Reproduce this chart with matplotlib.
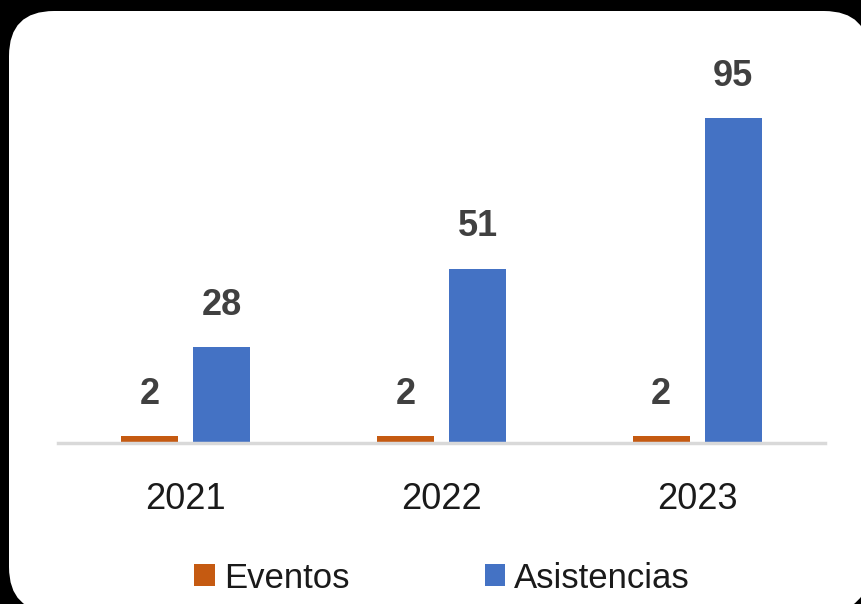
import matplotlib.pyplot as plt
import numpy as np
from matplotlib.patches import FancyBboxPatch

plt.rcParams['font.family'] = ['Liberation Sans', 'DejaVu Sans']

years = ['2021', '2022', '2023']
eventos = [2, 2, 2]
asistencias = [28, 51, 95]

c_eventos = '#C55A11'
c_asist = '#4472C4'

fig = plt.figure(figsize=(8.61, 6.04), dpi=100, facecolor='black')

# rounded white panel behind everything
panel = FancyBboxPatch((0.09, -0.08), 8.6, 6.01,
                       boxstyle='round,pad=0,rounding_size=0.45',
                       transform=fig.dpi_scale_trans,
                       facecolor='white', edgecolor='none', zorder=-10)
fig.patches.append(panel)

ax = fig.add_axes([58 / 861, 1 - 443 / 604, (825 - 58) / 861, (443 - 101) / 604])
ax.set_facecolor('none')
ax.set_zorder(1)

x = np.arange(len(years))
w = 0.223
off = 0.141
b1 = ax.bar(x - off, eventos, w, color=c_eventos, label='Eventos')
b2 = ax.bar(x + off, asistencias, w, color=c_asist, label='Asistencias')

for bars in (b1, b2):
    for r in bars:
        ax.annotate(str(int(r.get_height())),
                    (r.get_x() + r.get_width() / 2, r.get_height()),
                    xytext=(0, 30), textcoords='offset points',
                    ha='center', va='center', fontsize=26, fontweight='bold',
                    color='#404040')

ax.set_xlim(-0.5, 2.5)
ax.set_ylim(0, 100)
ax.set_xticks(x)
ax.set_xticklabels(years, fontsize=26, color='#1a1a1a')
ax.tick_params(axis='x', length=0, pad=28)
ax.set_yticks([])
for s in ['left', 'right', 'top']:
    ax.spines[s].set_visible(False)
ax.spines['bottom'].set_color('#D9D9D9')
ax.spines['bottom'].set_linewidth(2.5)

fig.legend(loc='center', bbox_to_anchor=(442 / 861, 1 - 578 / 604), ncol=2,
           frameon=False, fontsize=25, handlelength=0.6, handleheight=0.6,
           handletextpad=0.25, columnspacing=3.9, labelcolor='#1a1a1a')

fig.savefig('out.png', dpi=100, facecolor='black')
